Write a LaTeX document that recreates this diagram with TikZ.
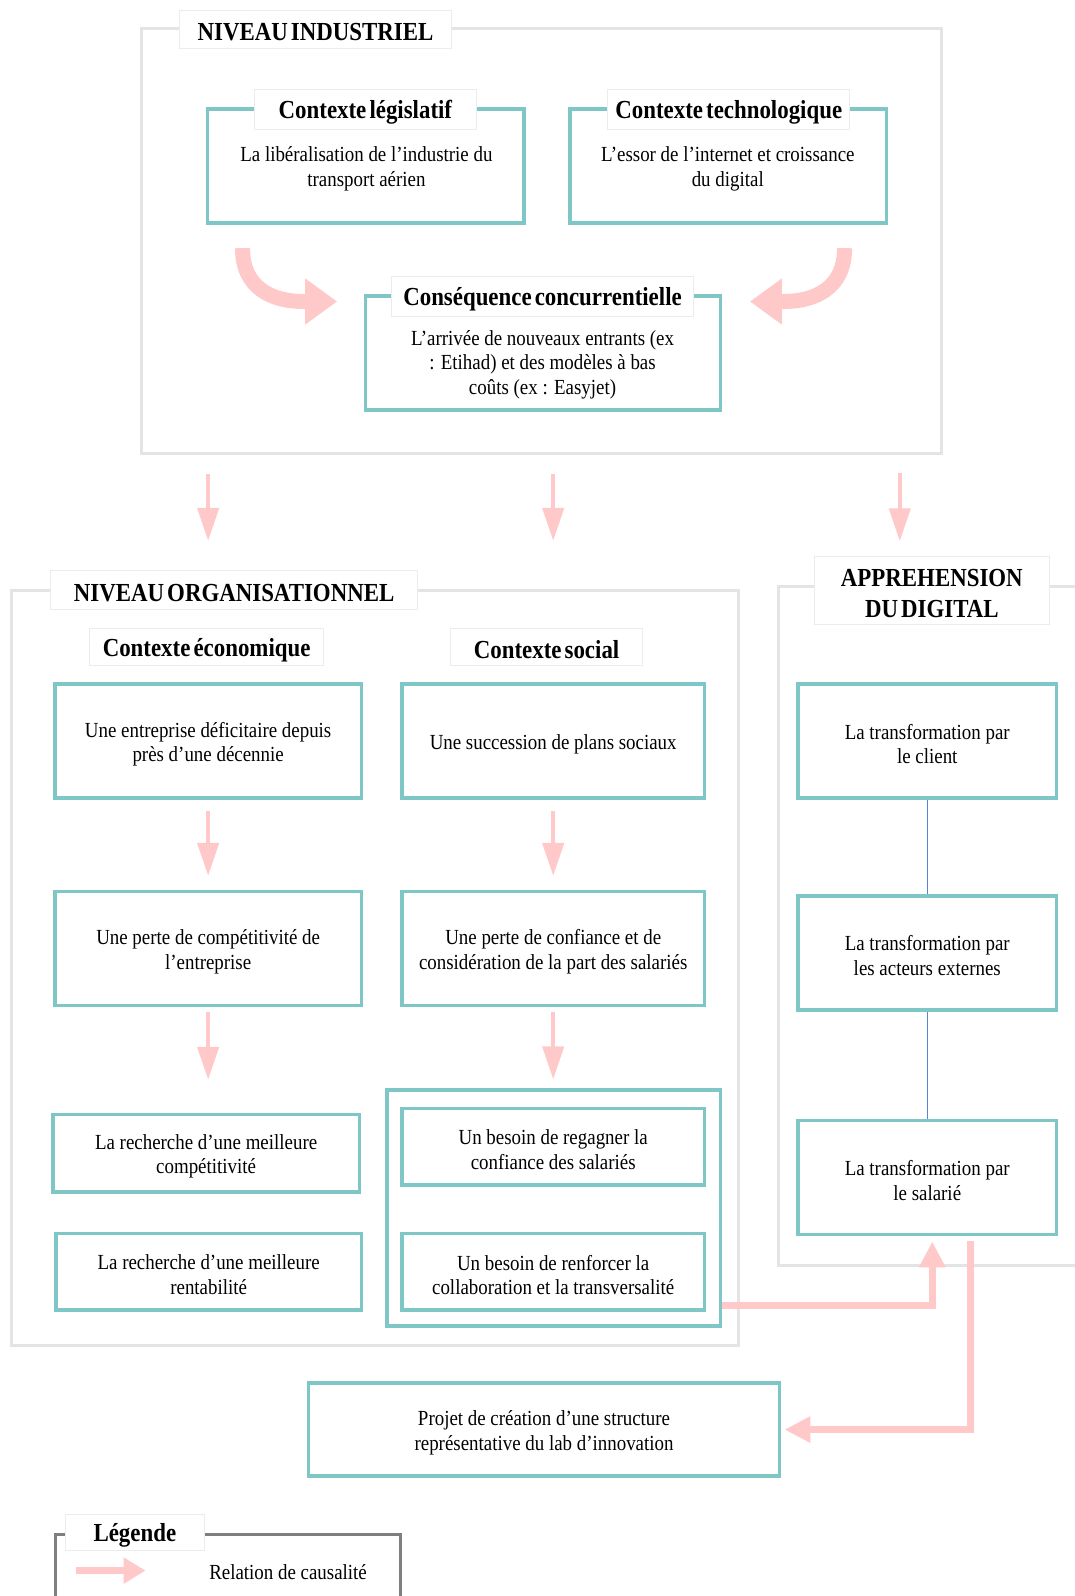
\documentclass[tikz,border=0pt]{standalone}
\usepackage{fontspec}
\setmainfont{Liberation Serif}[FakeStretch=0.88]
\usetikzlibrary{arrows.meta,calc}
\definecolor{tealc}{HTML}{7FC7C7}
\definecolor{pinkc}{HTML}{FFC9C9}
\definecolor{framec}{HTML}{E4E4E4}
\definecolor{labelc}{HTML}{ECECEC}
\definecolor{bluec}{HTML}{5B82D6}
\definecolor{legc}{HTML}{7F7F7F}
\newcommand\bodyfont{\fontsize{21.5}{24.5}\selectfont}
\newcommand\ttlfont{\fontsize{26}{31}\selectfont\bfseries\spaceskip=0.12em\relax}
% \bx{style}{name}{x1}{y1}{x2}{y2}{text}
\newcommand\bx[7]{%
  \pgfmathsetmacro\bxcx{(#3+#5)/2}%
  \pgfmathsetmacro\bxcy{(#4+#6)/2}%
  \pgfmathsetmacro\bxw{(#5-#3)*1.018}%
  \pgfmathsetmacro\bxh{(#6-#4)*1.018}%
  \node[#1, minimum width=\bxw pt, minimum height=\bxh pt] (#2) at (\bxcx,\bxcy) {};
  \node[#1, draw=none, fill=none, minimum width=0pt, minimum height=0pt] (#2-t) at ([yshift=-3pt]#2.center) {#7};}
\begin{document}
\begin{tikzpicture}[x=1.018pt,y=-1.018pt,
  tealbox/.style={draw=tealc, line width=3.6pt, fill=white, inner sep=0pt, font=\bodyfont, align=center},
  frame/.style={draw=framec, line width=3pt, inner sep=0pt},
  legframe/.style={draw=legc, line width=3pt, inner sep=0pt},
  lbl/.style={draw=labelc, line width=1pt, fill=white, inner sep=0pt, font=\ttlfont, align=center},
  txt/.style={font=\bodyfont, align=center, inner sep=0pt},
  causal/.style={draw=pinkc, line width=4.5pt, -{Triangle[length=33pt,width=21pt]}},
  causalbig/.style={draw=pinkc, line width=15pt, -{Triangle[length=32pt,width=44pt]}},
  causalmid/.style={draw=pinkc, line width=7pt, -{Triangle[length=26pt,width=25pt]}},
  link/.style={draw=bluec, line width=0.8pt}
]
\useasboundingbox[fill=white] (0,0) rectangle (1056,1568);

% frames
\bx{frame}{ind}{139}{28}{925}{446}{}
\bx{frame}{org}{11}{580}{726}{1322}{}
\bx{frame}{app}{765}{576}{1080}{1243}{}
\bx{legframe}{legd}{55}{1508}{393}{1620}{}

% niveau industriel
\bx{lbl}{indT}{176}{10}{444}{48}{NIVEAU INDUSTRIEL}
\bx{tealbox}{leg}{204}{107}{515}{219}{}
\node[txt] (legB) at (360,166) {La libéralisation de l’industrie du\\transport aérien};
\bx{lbl}{legT}{250}{88}{468}{127}{Contexte législatif}
\bx{tealbox}{tech}{560}{107}{871}{219}{}
\node[txt] (techB) at (715,166) {L’essor de l’internet et croissance\\du digital};
\bx{lbl}{techT}{597}{88}{835}{127}{Contexte technologique}
\bx{tealbox}{cons}{359}{291}{708}{403}{}
\node[txt] (consB) at (533,358) {L’arrivée de nouveaux entrants (ex\\: Etihad) et des modèles à bas\\coûts (ex : Easyjet)};
\bx{lbl}{consT}{385}{272}{681}{311}{Conséquence concurrentielle}

% curved arrows
\coordinate (c1) at ($(leg.south west)+(36,23)$);
\coordinate (c1e) at ($(cons.north west)+(-26,7)$);
\draw[causalbig] (c1) .. controls +(0,40) and +(-30,0) .. ($(c1e)+(-33,0)$) -- (c1e);
\coordinate (c2) at ($(tech.south east)+(-43,23)$);
\coordinate (c2e) at ($(cons.north east)+(27,7)$);
\draw[causalbig] (c2) .. controls +(0,40) and +(30,0) .. ($(c2e)+(33,0)$) -- (c2e);

% niveau organisationnel
\bx{lbl}{orgT}{50}{560}{410}{599}{NIVEAU ORGANISATIONNEL}
\bx{lbl}{ecoT}{88}{617}{318}{654}{Contexte économique}
\bx{lbl}{socT}{443}{617}{631}{654}{Contexte social}
\bx{tealbox}{E1}{54}{672}{355}{784}{Une entreprise déficitaire depuis\\près d’une décennie}
\bx{tealbox}{S1}{395}{672}{692}{784}{Une succession de plans sociaux}
\bx{tealbox}{E2}{54}{876}{355}{988}{Une perte de compétitivité de\\l’entreprise}
\bx{tealbox}{S2}{395}{876}{692}{988}{Une perte de confiance et de\\considération de la part des salariés}
\bx{tealbox}{E3}{52}{1095}{353}{1171}{La recherche d’une meilleure\\compétitivité}
\bx{tealbox}{E4}{55}{1212}{355}{1287}{La recherche d’une meilleure\\rentabilité}
\bx{tealbox}{Sg}{380}{1071}{708}{1303}{}
\bx{tealbox}{S3}{395}{1089}{692}{1164}{Un besoin de regagner la\\confiance des salariés}
\bx{tealbox}{S4}{395}{1212}{692}{1287}{Un besoin de renforcer la\\collaboration et la transversalité}

% appréhension du digital
\bx{lbl}{appT}{800}{547}{1031}{614}{APPREHENSION\\DU DIGITAL}
\bx{tealbox}{D1}{784}{672}{1038}{784}{La transformation par\\le client}
\bx{tealbox}{D2}{784}{880}{1038}{992}{La transformation par\\les acteurs externes}
\bx{tealbox}{D3}{784}{1101}{1038}{1213}{La transformation par\\le salarié}
\draw[link] (D1.south) -- (D2.north);
\draw[link] (D2.south) -- (D3.north);

% projet
\bx{tealbox}{P}{303}{1359}{766}{1450}{Projet de création d’une structure\\représentative du lab d’innovation}

% straight causal arrows
\draw[causal, shorten <=19pt, shorten >=48pt] (ind.south -| E1.south) -- (org.north -| E1.south);
\draw[causal, shorten <=19pt, shorten >=48pt] (ind.south -| S1.south) -- (org.north -| S1.south);
\coordinate (a3) at (884,446);
\draw[causal, shorten <=19pt, shorten >=15pt] (a3) -- (a3 |- appT.north);
\draw[causal, shorten <=11pt, shorten >=14pt] (E1.south) -- (E2.north);
\draw[causal, shorten <=11pt, shorten >=14pt] (S1.south) -- (S2.north);
\draw[causal, shorten <=5pt, shorten >=33pt] (E2.south) -- (E3.north -| E2.south);
\draw[causal, shorten <=5pt, shorten >=9pt] (S2.south) -- (Sg.north -| S2.south);

% bottom arrows
\draw[causalmid, shorten >=5pt] ([yshift=22.4pt]Sg.south east) -| ([xshift=5pt]D3.south);
\draw[causalmid, shorten <=5pt, shorten >=3pt] ([xshift=43pt]D3.south) |- (P.east);

% legend
\bx{lbl}{legdT}{64}{1488}{201}{1523}{Légende}
\coordinate (la) at (75,1543);
\coordinate (lb) at (143,1543);
\draw[causalmid, -{Triangle[length=22pt,width=25pt]}] (la) -- (lb);
\node[txt] (legdB) at (283,1545) {Relation de causalité};
\end{tikzpicture}
\end{document}
